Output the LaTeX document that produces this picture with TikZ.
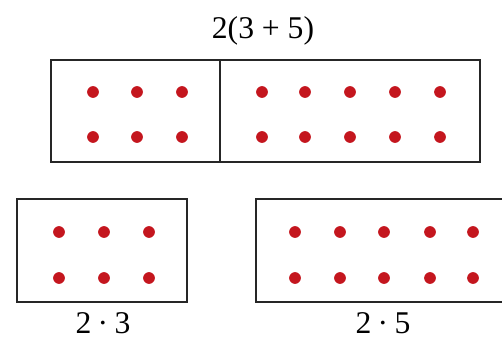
\documentclass[tikz,border=0pt]{standalone}
\usepackage{fontspec}
\setmainfont{Liberation Serif}
\usepackage{tikz}
\usetikzlibrary{positioning}

\definecolor{dotred}{RGB}{196,22,30}

\tikzset{
  box/.style={draw=black!85, line width=1.2pt},
  counter/.style={circle, fill=dotred, inner sep=0pt, minimum size=10pt},
  caption/.style={font=\fontsize{27}{32}\selectfont, inner sep=0pt},
}

\begin{document}
\begin{tikzpicture}[x=0.03cm, y=-0.03cm]
  \useasboundingbox (0,0) rectangle (502,342);
  \clip (0,0) rectangle (502,342);
  % Rectangle du haut : 2(3 + 5)
  \draw[box] (51,60) rectangle (480,162);
  \draw[box] (220,60) -- (220,162);
  \node[caption] (sumlabel) at (263,31) {2(3 + 5)};
  \foreach \x in {93,137,182,262,305,350,395,440}
    \foreach \y in {92,137}
      \node[counter] at (\x,\y) {};
  % Rectangle en bas a gauche : 2 . 3
  \draw[box] (17,199) rectangle (187,302);
  \foreach \x in {59,104,149}
    \foreach \y in {232,278}
      \node[counter] at (\x,\y) {};
  \node[caption] (leftlabel) at (103,323) {2\kern0.2em·\kern0.2em3};
  % Rectangle en bas a droite : 2 . 5
  \draw[box] (256,199) rectangle (520,302);
  \foreach \x in {295,340,384,430,473}
    \foreach \y in {232,278}
      \node[counter] at (\x,\y) {};
  \node[caption] (rightlabel) at (383,323) {2\kern0.2em·\kern0.2em5};
\end{tikzpicture}
\end{document}
